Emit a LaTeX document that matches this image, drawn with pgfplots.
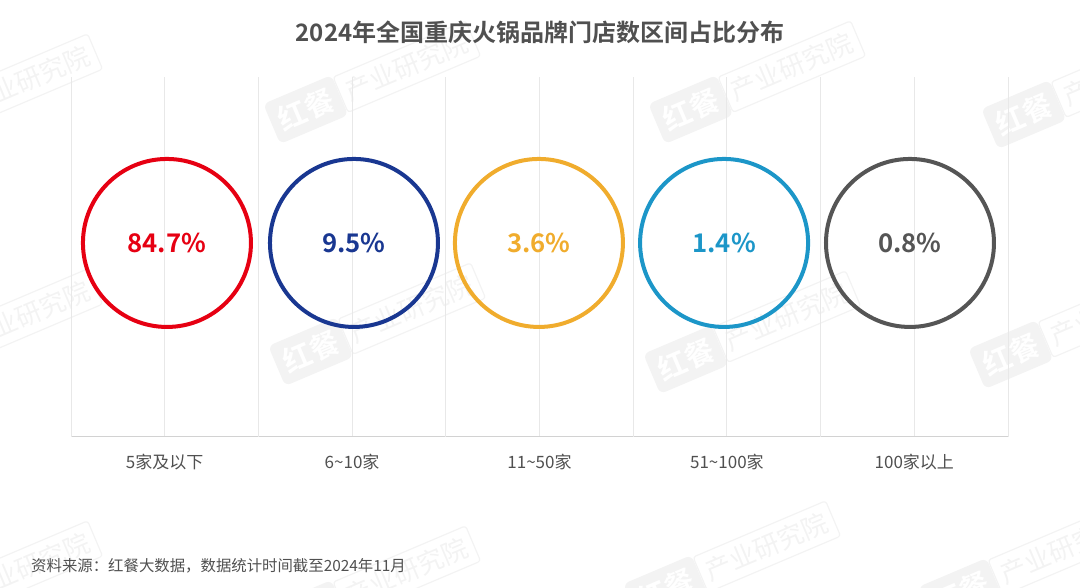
\documentclass[border=0pt]{standalone}
\usepackage{fontspec}
\setmainfont{Noto Sans CJK SC}[BoldFont={Noto Sans CJK SC Bold}]
\usepackage{pgfplots}
\pgfplotsset{compat=1.18}
\definecolor{cRed}{RGB}{230,0,18}
\definecolor{cBlue}{RGB}{25,55,145}
\definecolor{cOrange}{RGB}{240,172,45}
\definecolor{cCyan}{RGB}{28,150,200}
\definecolor{cGray}{RGB}{85,85,85}
\definecolor{txt}{RGB}{80,80,80}
\definecolor{gridc}{RGB}{232,232,232}
\definecolor{basec}{RGB}{210,210,210}
\definecolor{wmc}{RGB}{243,243,243}
\newcommand\wm[2]{%
  \begin{scope}[shift={(#1,#2)}, rotate=23, transform shape]
    \node[fill=wmc, rounded corners=6pt, text=white, font=\bfseries\fontsize{29}{29}\selectfont, anchor=east, inner sep=8pt] at (0,0) {红餐};
    \node[draw=wmc, line width=1.2pt, rounded corners=3pt, text=wmc, font=\fontsize{26}{26}\selectfont, anchor=west, inner sep=7pt] at (0,0) {产业研究院};
  \end{scope}}
\begin{document}
\begin{tikzpicture}[x=1pt,y=1pt]
\useasboundingbox (0,0) rectangle (1080,588);
\begin{scope}
\clip (0,0) rectangle (1080,588);
\wm{-38}{480}\wm{340}{493}\wm{725}{493}\wm{1058}{488}
\wm{-38}{245}\wm{345}{251}\wm{720}{243}\wm{1045}{248}
\wm{-38}{-7}\wm{340}{-12}\wm{700}{13}\wm{995}{10}
\end{scope}
\begin{axis}[
  at={(71pt,151pt)}, anchor=south west,
  width=937pt, height=360pt, scale only axis,
  xmin=-0.5, xmax=4.5, ymin=0, ymax=1,
  clip=false,
  axis x line*=bottom, axis y line=none,
  axis line style={draw=basec, line width=1pt},
  xtick={0,1,2,3,4},
  xticklabels={5家及以下,6\textasciitilde10家,11\textasciitilde50家,51\textasciitilde100家,100家以上},
  xticklabel style={font=\fontsize{17}{17}\selectfont, text=txt, yshift=-14pt},
  major tick length=0pt,
  xmajorgrids,
  extra x ticks={-0.5,0.5,1.5,2.5,3.5,4.5},
  extra x tick labels={},
  extra x tick style={grid=major, major tick length=0pt},
  grid style={draw=gridc, line width=1pt},
  /pgf/number format/assume math mode=true,
  /pgf/number format/.cd, fixed, fixed zerofill, precision=1,
  /pgfplots/.cd,
  point meta=explicit,
  nodes near coords={\pgfmathprintnumber{\pgfplotspointmeta}\%},
  every node near coord/.append style={anchor=center, font=\bfseries\fontsize{25.7}{25.7}\selectfont},
]
\addplot[only marks, mark=o, mark size=84pt, mark options={draw=cRed, line width=4pt}, every node near coord/.append style={text=cRed}]
  table[meta=v] {x y v
0.012 0.539 84.7
};
\addplot[only marks, mark=o, mark size=84pt, mark options={draw=cBlue, line width=4pt}, every node near coord/.append style={text=cBlue}]
  table[meta=v] {x y v
1.010 0.539 9.5
};
\addplot[only marks, mark=o, mark size=84pt, mark options={draw=cOrange, line width=4pt}, every node near coord/.append style={text=cOrange}]
  table[meta=v] {x y v
1.997 0.539 3.6
};
\addplot[only marks, mark=o, mark size=84pt, mark options={draw=cCyan, line width=4pt}, every node near coord/.append style={text=cCyan}]
  table[meta=v] {x y v
2.985 0.539 1.4
};
\addplot[only marks, mark=o, mark size=84pt, mark options={draw=cGray, line width=4pt}, every node near coord/.append style={text=cGray}]
  table[meta=v] {x y v
3.977 0.539 0.8
};
\end{axis}
\node[font=\bfseries\fontsize{24}{24}\selectfont, text=txt] at (540,556) {2024年全国重庆火锅品牌门店数区间占比分布};
\node[anchor=west, font=\fontsize{15.4}{15.4}\selectfont, text=txt, inner sep=0pt] at (31,22) {资料来源：红餐大数据，数据统计时间截至2024年11月};
\end{tikzpicture}
\end{document}
